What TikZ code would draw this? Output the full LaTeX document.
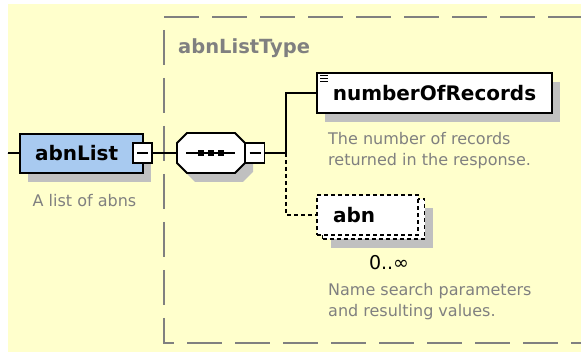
\documentclass[tikz,border=0pt]{standalone}
\usepackage{fontspec}
\setmainfont{DejaVu Sans}
\usetikzlibrary{arrows, arrows.meta}
\usetikzlibrary{calc}
\usetikzlibrary{shapes.misc, shadows}

\definecolor{paper}{RGB}{255,255,204}
\definecolor{elemblue}{RGB}{168,202,240}
\definecolor{shadowgrey}{RGB}{192,192,192}
\definecolor{notegrey}{RGB}{128,128,128}

\begin{document}
\begin{tikzpicture}[x=1pt, y=-1pt,
    elem/.style={draw, line width=1.8pt, inner sep=0pt, font=\bfseries\fontsize{20}{24}\selectfont},
    shadowed/.style={drop shadow={shadow xshift=8pt, shadow yshift=-9pt, fill=shadowgrey, opacity=1}},
    optbox/.style={dash pattern=on 4pt off 3pt},
    foldbox/.style={draw, fill=white, line width=1.8pt, inner sep=0pt, minimum width=19pt, minimum height=20pt,
      path picture={\draw[line width=1.6pt] ([xshift=4pt]path picture bounding box.west) -- ([xshift=-4pt]path picture bounding box.east);}},
    doc/.style={text=notegrey, inner sep=0pt, align=left, font=\fontsize{16}{21}\selectfont},
    wire/.style={line width=1.7pt},
    optwire/.style={line width=1.7pt, dash pattern=on 4pt off 3pt},
    typeline/.style={draw=notegrey, line width=1.7pt, dash pattern=on 35pt off 13pt}]

  \useasboundingbox (0,0) rectangle (581,352);
  \fill[paper] (8,4) rectangle (581,352);

  % complex type frame
  \node[text=notegrey, inner sep=0pt, anchor=west, font=\bfseries\fontsize{19.5}{24}\selectfont] (typeName) at (178,48) {abnListType};
  \draw[typeline] (164,17) -- (581,17);
  \draw[typeline] (164,30) -- (164,343) -- (581,343);

  % root element
  \coordinate (stub) at (8,153);
  \node[elem, shadowed, fill=elemblue, minimum width=123pt, minimum height=39pt, text width=93pt, inner xsep=15pt, align=left] (abnList) at (81.5,153.5) {abnList};
  \node[foldbox] (abnListFold) at (142.5,153) {};
  \node[doc] (abnListDoc) at (84.5,201) {A list of abns};

  % sequence
  \node[elem, shadowed, chamfered rectangle, chamfered rectangle xsep=9pt, chamfered rectangle ysep=1pt, inner xsep=25pt, inner ysep=19pt, fill=white] (seq) at (211,153) {};
  \draw[line width=1.6pt] ([xshift=-25pt]seq.center) -- ([xshift=24pt]seq.center);
  \foreach \dx in {-10,0,10}
    \fill ([xshift=\dx pt]seq.center) +(-2.8,-2.8) rectangle +(2.8,2.8);
  \node[foldbox] (seqFold) at (255,153) {};
  \coordinate (branch) at (286,153);

  % children
  \node[elem, shadowed, fill=white, minimum width=235pt, minimum height=40pt] (nor) at (434.5,93) {numberOfRecords};
  \foreach \dy in {3.5,6.5,9.5}
    \draw[line width=1pt] ($(nor.north west)+(4,\dy)$) -- +(8,0);
  \node[doc, anchor=west] (norDoc) at (328,151) {The number of records\\returned in the response.};

  \node[elem, shadowed, optbox, fill=white, minimum width=102pt, minimum height=40pt] (abnBack) at (373.5,219) {};
  \node[elem, optbox, fill=white, minimum width=101pt, minimum height=40pt, text width=69pt, inner xsep=16pt, align=left] (abn) at (367.5,215) {abn};
  \node[inner sep=0pt, font=\fontsize{19}{22}\selectfont] (abnCard) at (389,263) {0..∞};
  \node[doc, anchor=west] (abnDoc) at (328,302) {Name search parameters\\and resulting values.};

  \draw[wire] (stub) -- (abnList);
  \draw[wire] (abnListFold) -- (seq);
  \draw[wire] (seqFold) -- (branch);
  \draw[wire] (branch) |- (nor);
  \draw[optwire] (branch) |- (abn);
\end{tikzpicture}
\end{document}
